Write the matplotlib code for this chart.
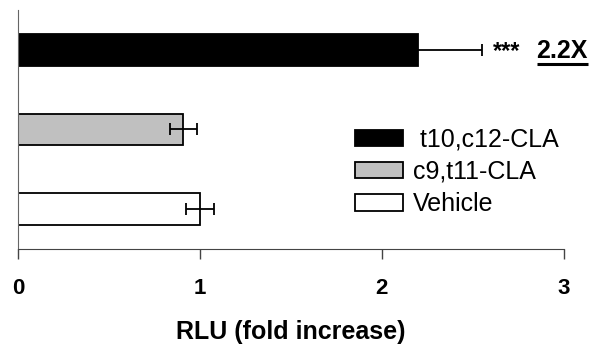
import matplotlib.pyplot as plt
from matplotlib import transforms

plt.rcParams["font.family"] = ["Liberation Sans", "DejaVu Sans"]

# bottom to top
treatments = ["Vehicle", "c9,t11-CLA", "t10,c12-CLA"]
fold_change = [1.00, 0.91, 2.20]
sem = [0.075, 0.075, 0.35]
fills = ["white", "#c0c0c0", "black"]
legend_labels = ["Vehicle", "c9,t11-CLA", " t10,c12-CLA"]

fig = plt.figure(figsize=(5.96, 3.49), dpi=100)
ax = fig.add_axes([0.030, 0.2865, 0.916, 0.685])

ypos = list(range(len(treatments)))
bars = []
for y, v, e, c, lab in zip(ypos, fold_change, sem, fills, legend_labels):
    b = ax.barh(y, v, height=0.4, color=c, edgecolor="black", linewidth=1.3,
                label=lab, zorder=2)
    ax.errorbar(v, y, xerr=e, fmt="none", ecolor="black", elinewidth=1.3,
                capsize=4.3, capthick=1.3, zorder=3)
    bars.append(b)

ax.set_xlim(0, 3)
ax.set_ylim(-0.5, 2.5)
ax.set_xticks([0, 1, 2, 3])
ax.set_xticklabels(["0", "1", "2", "3"], fontsize=16, fontweight="bold")
ax.set_yticks([])
ax.tick_params(axis="x", direction="out", length=7, width=1, color="#444444", pad=14)
for s in ["top", "right"]:
    ax.spines[s].set_visible(False)
ax.spines["left"].set_color("#666666")
ax.spines["bottom"].set_color("#444444")
ax.set_xlabel("RLU (fold increase)", fontsize=18, fontweight="bold", labelpad=15)

# significance and fold annotation on the t10,c12 bar
top = fold_change[2] + sem[2]
ax.text(top + 0.06, 1.9, "***", fontsize=17, fontweight="bold", va="baseline", ha="left")
fold_txt = ax.text(2.85, 1.9, "2.2X", fontsize=18, fontweight="bold",
                   va="baseline", ha="left")

handles = bars[::-1]
ax.legend(handles, [h.get_label() for h in handles], loc="upper left",
          bbox_to_anchor=(0.617, 0.508), frameon=False, fontsize=18,
          handlelength=1.92, handleheight=0.64, handletextpad=0.4,
          labelspacing=0.33, borderaxespad=0, borderpad=0)

# underline "2.2X" using its rendered extent
fig.canvas.draw()
bb = fold_txt.get_window_extent().transformed(ax.transData.inverted())
under = transforms.offset_copy(ax.transData, fig=fig, y=-6, units="dots")
ax.plot([bb.x0, bb.x1], [1.9, 1.9], color="black", lw=2.2, transform=under,
        clip_on=False, solid_capstyle="butt", zorder=4)

fig.savefig("out.png", dpi=100)
